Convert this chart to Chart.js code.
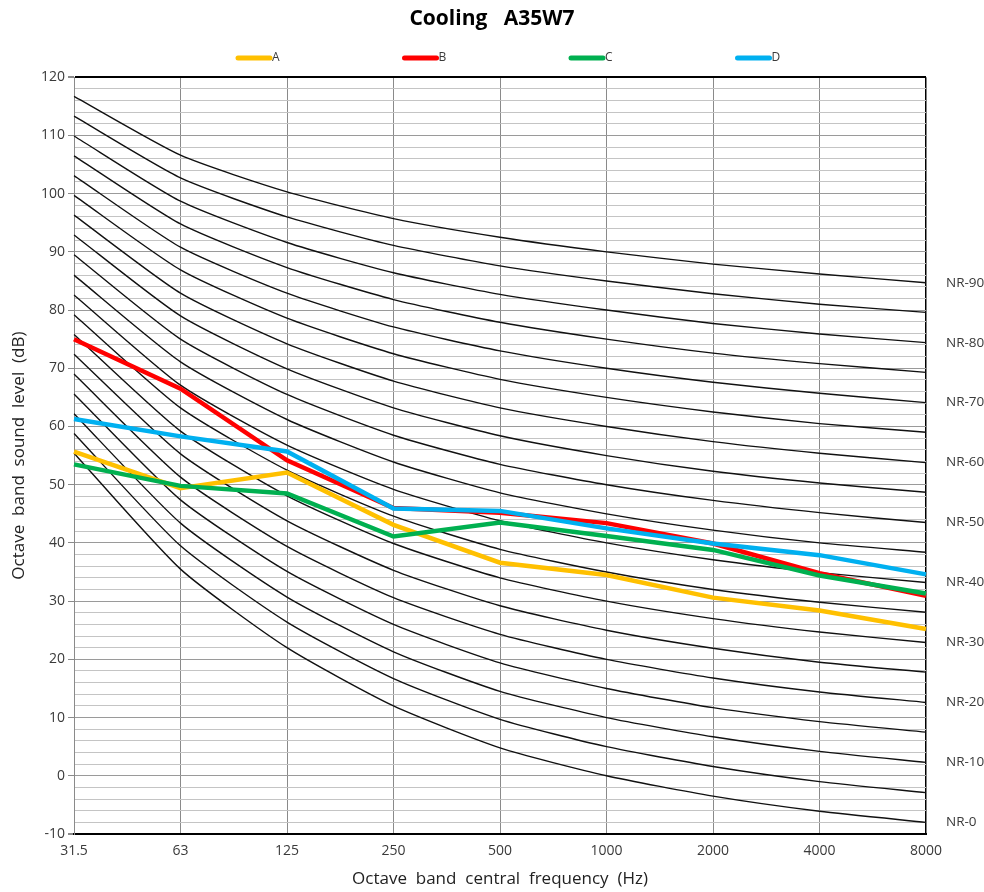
<!DOCTYPE html>
<html>
<head>
<meta charset="utf-8">
<script src="https://cdn.jsdelivr.net/npm/chart.js@4/dist/chart.umd.min.js"></script>
<style>
  html, body { margin: 0; padding: 0; background: #ffffff; }
  #wrap { width: 984px; height: 892px; position: relative; }
</style>
</head>
<body>
<div id="wrap"><canvas id="c"></canvas></div>
<script>
// ---- data ----
const frequencies = ['31.5', '63', '125', '250', '500', '1000', '2000', '4000', '8000'];

const seriesA = [55.7, 49.4, 52.1, 43.1, 36.6, 34.5, 30.6, 28.4, 25.2];
const seriesB = [75.0, 66.5, 54.2, 46.0, 45.2, 43.4, 39.9, 34.8, 30.9];
const seriesC = [53.5, 49.8, 48.5, 41.1, 43.5, 41.2, 38.8, 34.4, 31.3];
const seriesD = [61.3, 58.3, 55.7, 45.9, 45.5, 42.5, 39.9, 37.9, 34.6];
const seriesNames = ['A', 'B', 'C', 'D'];

// NR reference curves (NR-0 ... NR-90, step 5)
const nr0  = [55.4, 35.5, 22.0, 12.0,  4.8,  0, -3.5, -6.1, -8.0];
const nr5  = [58.8, 39.5, 26.4, 16.7,  9.7,  5,  1.6, -1.0, -2.9];
const nr10 = [62.2, 43.4, 30.7, 21.3, 14.5, 10,  6.7,  4.2,  2.3];
const nr15 = [65.6, 47.4, 35.1, 26.0, 19.4, 15, 11.7,  9.3,  7.5];
const nr20 = [69.0, 51.3, 39.4, 30.6, 24.3, 20, 16.8, 14.4, 12.6];
const nr25 = [72.4, 55.3, 43.8, 35.3, 29.2, 25, 21.9, 19.5, 17.8];
const nr30 = [75.8, 59.2, 48.1, 39.9, 34.0, 30, 27.0, 24.7, 22.9];
const nr35 = [79.2, 63.2, 52.5, 44.6, 38.9, 35, 32.0, 29.8, 28.1];
const nr40 = [82.6, 67.1, 56.8, 49.2, 43.8, 40, 37.1, 34.9, 33.2];
const nr45 = [86.0, 71.1, 61.2, 53.9, 48.6, 45, 42.2, 40.0, 38.4];
const nr50 = [89.5, 75.0, 65.5, 58.5, 53.5, 50, 47.3, 45.2, 43.5];
const nr55 = [92.9, 79.0, 69.9, 63.2, 58.4, 55, 52.3, 50.3, 48.7];
const nr60 = [96.3, 82.9, 74.2, 67.8, 63.2, 60, 57.4, 55.4, 53.8];
const nr65 = [99.7, 86.9, 78.6, 72.5, 68.1, 65, 62.5, 60.5, 59.0];
const nr70 = [103.1, 90.8, 82.9, 77.1, 73.0, 70, 67.6, 65.7, 64.1];
const nr75 = [106.5, 94.8, 87.3, 81.8, 77.9, 75, 72.6, 70.8, 69.3];
const nr80 = [109.9, 98.7, 91.6, 86.4, 82.7, 80, 77.7, 75.9, 74.4];
const nr85 = [113.3, 102.7, 96.0, 91.1, 87.6, 85, 82.8, 81.0, 79.6];
const nr90 = [116.7, 106.6, 100.3, 95.7, 92.5, 90, 87.9, 86.2, 84.7];
const nrCurves = [nr0, nr5, nr10, nr15, nr20, nr25, nr30, nr35, nr40, nr45,
                  nr50, nr55, nr60, nr65, nr70, nr75, nr80, nr85, nr90];

// right-hand NR labels (placed at the 8000 Hz end of each labelled curve)
const nrLabelNames = ['NR-0', 'NR-10', 'NR-20', 'NR-30', 'NR-40', 'NR-50', 'NR-60', 'NR-70', 'NR-80', 'NR-90'];
const nrLabelCurves = [nr0, nr10, nr20, nr30, nr40, nr50, nr60, nr70, nr80, nr90];

const yMin = -10, yMax = 120, yMinorStep = 2, yMajorStep = 10;

// ---- styles ----
const seriesColors = ['#FFC000', '#FF0000', '#00B050', '#00B0F0'];
const textColor = '#3a3a3a';
const baseFont = "'Open Sans', 'Liberation Sans', sans-serif";

const dataSets = [];
[seriesA, seriesB, seriesC, seriesD].forEach((arr, i) => {
  dataSets.push({
    label: seriesNames[i],
    data: arr,
    borderColor: seriesColors[i],
    backgroundColor: seriesColors[i],
    borderWidth: 4.5,
    pointRadius: 0,
    tension: 0,
    fill: false,
    order: 3 - i,
    isSeries: true
  });
});
nrCurves.forEach((arr, i) => {
  dataSets.push({
    label: 'NR-' + (i * 5),
    data: arr,
    borderColor: '#111111',
    borderWidth: 1.4,
    pointRadius: 0,
    tension: 0.2,
    fill: false,
    order: 10
  });
});

const legendPlugin = {
  id: 'manualLegend',
  afterDraw(chart) {
    const ctx = chart.ctx;
    const startX = 238, gap = 166.5, y = 58, len = 32;
    ctx.save();
    chart.data.datasets.filter(d => d.isSeries).forEach((d, i) => {
      const x = startX + i * gap;
      ctx.strokeStyle = d.borderColor;
      ctx.lineWidth = 5;
      ctx.lineCap = 'round';
      ctx.beginPath();
      ctx.moveTo(x, y);
      ctx.lineTo(x + len, y);
      ctx.stroke();
      ctx.fillStyle = textColor;
      ctx.font = "12px " + baseFont;
      ctx.textBaseline = 'middle';
      ctx.textAlign = 'left';
      ctx.fillText(d.label, x + len + 2, y);
    });
    ctx.restore();
  }
};

new Chart(document.getElementById('c'), {
  type: 'line',
  data: { labels: frequencies, datasets: dataSets },
  plugins: [legendPlugin],
  options: {
    responsive: true,
    maintainAspectRatio: false,
    animation: false,
    layout: { padding: { left: 0, right: 0, top: 0, bottom: 0 } },
    plugins: {
      legend: { display: false },
      tooltip: { enabled: false },
      title: {
        display: true,
        text: 'Cooling   A35W7',
        color: '#000000',
        font: { family: baseFont, size: 21, weight: 'bold' },
        padding: { top: 6, bottom: 46 }
      }
    },
    scales: {
      x: {
        type: 'category',
        offset: false,
        grid: {
          color: (c) => c.index === frequencies.length - 1 ? '#000000' : '#8a8a8a',
          lineWidth: (c) => c.index === frequencies.length - 1 ? 1.5 : 1,
          drawTicks: false
        },
        border: { color: '#000000', width: 2 },
        ticks: {
          color: textColor,
          font: { family: baseFont, size: 14 },
          padding: 9,
          maxRotation: 0,
          autoSkip: false
        },
        title: {
          display: true,
          text: 'Octave  band  central  frequency  (Hz)',
          color: '#222222',
          font: { family: baseFont, size: 17 },
          padding: { top: 0, bottom: 3 }
        },
        afterFit(scale) { scale.height = 58; }
      },
      y: {
        type: 'linear',
        position: 'left',
        min: yMin,
        max: yMax,
        grid: {
          color: (c) => {
            const v = c.tick.value;
            if (v === yMax || v === yMin) return '#000000';
            return v % yMajorStep === 0 ? '#9a9a9a' : '#c4c4c4';
          },
          lineWidth: (c) => {
            const v = c.tick.value;
            return (v === yMax || v === yMin) ? 2 : 1;
          },
          tickColor: (c) => c.tick.value % yMajorStep === 0 ? '#8a8a8a' : 'rgba(0,0,0,0)',
          tickLength: 6
        },
        border: { color: '#8a8a8a', width: 1 },
        ticks: {
          stepSize: yMinorStep,
          autoSkip: false,
          color: textColor,
          font: { family: baseFont, size: 14 },
          padding: 3,
          callback: (v) => (v % yMajorStep === 0 ? String(v) : '')
        },
        title: {
          display: true,
          text: 'Octave  band  sound  level  (dB)',
          color: '#222222',
          font: { family: baseFont, size: 17 },
          padding: { top: 9, bottom: 0 }
        },
        afterFit(scale) { scale.width = 74; }
      },
      nr: {
        type: 'linear',
        position: 'right',
        min: yMin,
        max: yMax,
        grid: { display: false, drawOnChartArea: false },
        border: { display: false },
        ticks: {
          color: textColor,
          font: { family: baseFont, size: 13.5 },
          padding: 12,
          autoSkip: false,
          callback: (v, i) => nrLabelNames[i]
        },
        afterBuildTicks(scale) {
          scale.ticks = nrLabelCurves.map(c => ({ value: c[c.length - 1] }));
        },
        afterFit(scale) { scale.width = 58; }
      }
    }
  }
});
</script>
</body>
</html>
